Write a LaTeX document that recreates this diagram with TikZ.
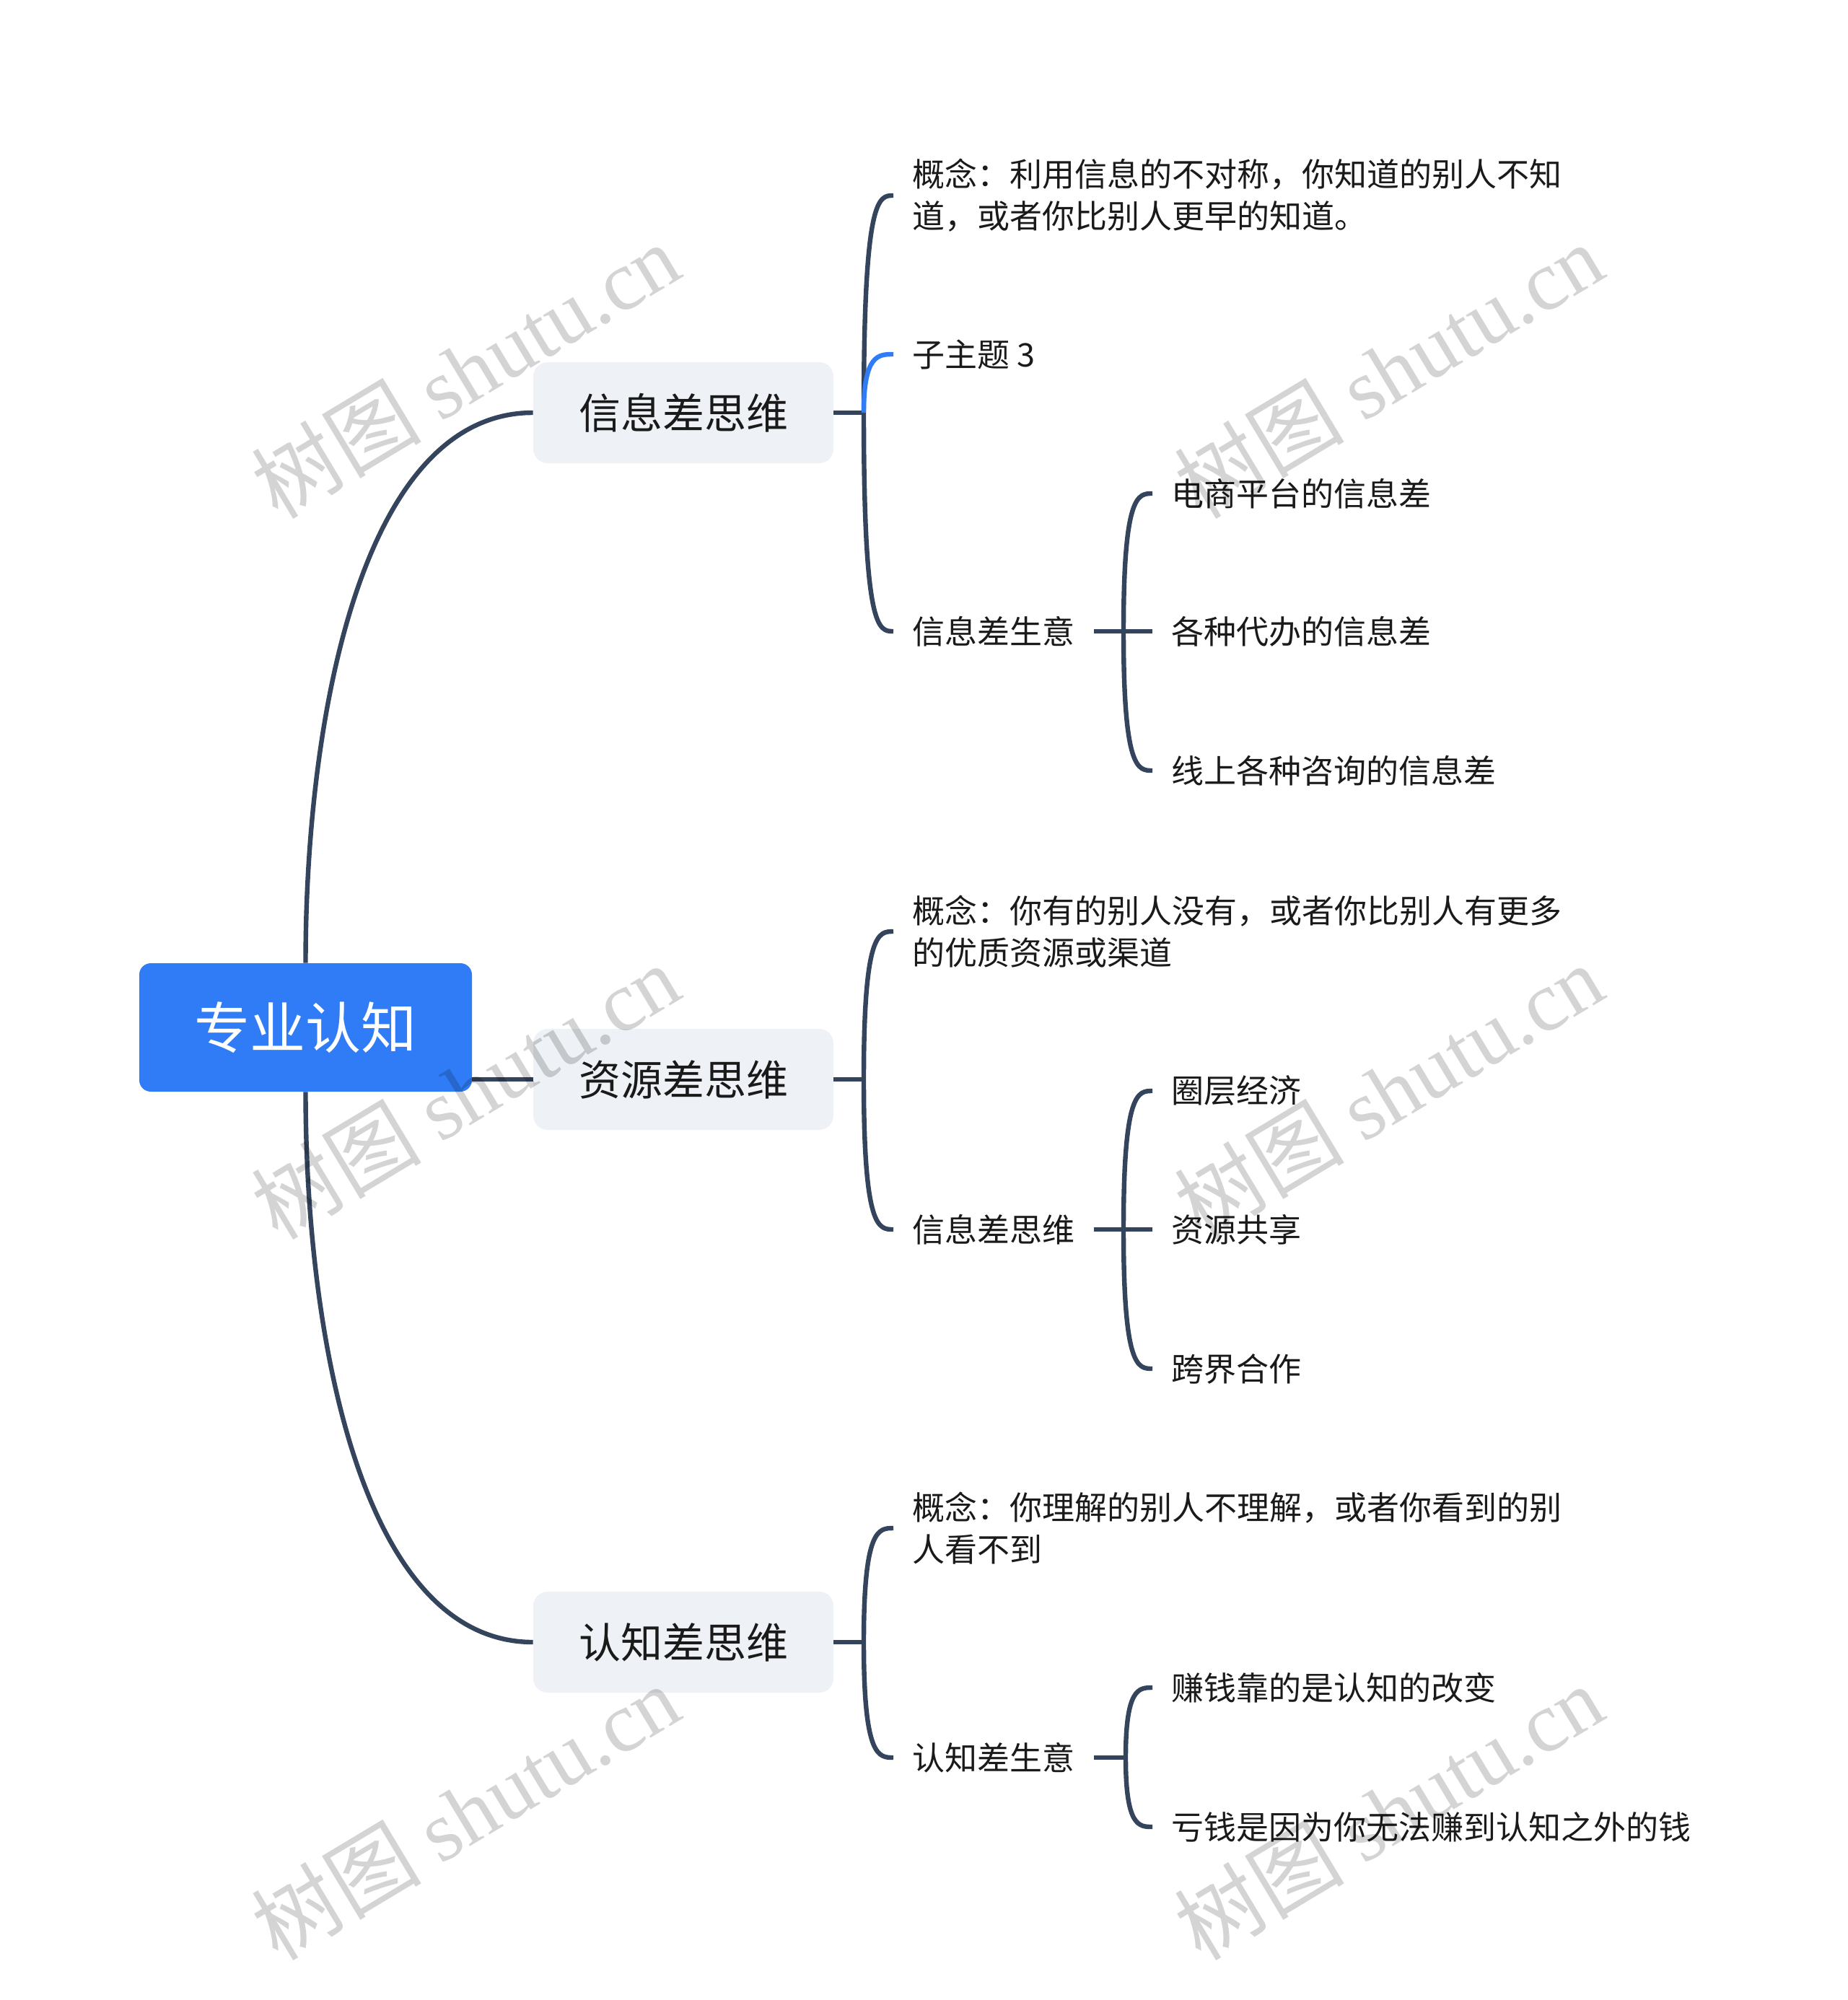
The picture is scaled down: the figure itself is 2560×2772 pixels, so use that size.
\documentclass[tikz,border=0pt]{standalone}
\usepackage{fontspec}
\setmainfont{Noto Sans CJK SC}
\newfontfamily\wmlat{Liberation Serif}
\usetikzlibrary{calc}
\definecolor{rootblue}{HTML}{2F7CF6}
\definecolor{boxgray}{HTML}{EEF1F5}
\definecolor{linecol}{HTML}{34445C}
\definecolor{linkblue}{HTML}{2F7CF6}
\definecolor{wmgray}{HTML}{D4D4D4}
\definecolor{txt}{HTML}{1A1A1A}
\newcommand\mmconn[3][conn]{\draw[#1] (#2) .. controls (#2 |- #3.west) and ($(#2 |- #3.west)!0.5!(#3.west)$) .. (#3.west);}
\begin{document}
\begin{tikzpicture}[x=0.5pt,y=-0.5pt,
  rootnode/.style={rectangle, rounded corners=8pt, fill=rootblue, text=white, minimum width=230.5pt, minimum height=89pt, font=\fontsize{38.5}{46}\selectfont, inner sep=0pt},
  branchnode/.style={rectangle, rounded corners=10pt, fill=boxgray, text=txt, minimum width=208pt, minimum height=70pt, font=\fontsize{29}{35}\selectfont, inner sep=0pt},
  leafnode/.style={anchor=west, inner xsep=13pt, inner ysep=0pt, align=left, text=txt, font=\fontsize{22.5}{29}\selectfont},
  conn/.style={draw=linecol, line width=3.2pt},
  connblue/.style={conn, draw=linkblue},
  wm/.style={text=wmgray, font=\fontsize{59}{65}\selectfont, rotate=31, inner sep=0pt}]
\fill[white] (0,0) rectangle (2560,2772);
\useasboundingbox (0,0) rectangle (2560,2772);

% root and main branches
\node[rootnode] (root) at (423.5,1424) {专业认知};
\node[branchnode] (b1) at (947,572) {信息差思维};
\node[branchnode] (b2) at (947,1496) {资源差思维};
\node[branchnode] (b3) at (947,2276) {认知差思维};

\draw[conn] (root.north) .. controls ($(root.north)+(0,-335)$) and ($(b1.west)+(-239,0)$) .. (b1.west);
\draw[conn] (root.south) .. controls ($(root.south)+(0,335)$) and ($(b3.west)+(-239,0)$) .. (b3.west);
\draw[conn] (root.east |- b2.west) -- (b2.west);

% branch 1
\node[leafnode] (c11) at (1238,271) {概念：利用信息的不对称，你知道的别人不知\\道，或者你比别人更早的知道。};
\node[leafnode] (c12) at (1238,491) {子主题 3};
\node[leafnode] (c13) at (1238,875) {信息差生意};
\node[leafnode] (d11) at (1597,684) {电商平台的信息差};
\node[leafnode] (d12) at (1597,875) {各种代办的信息差};
\node[leafnode] (d13) at (1597,1068) {线上各种咨询的信息差};
\coordinate (j1) at (1197,572);
\coordinate (k1) at (1557,875);
\draw[conn] (b1.east) -- (j1);
\mmconn{j1}{c11}
\mmconn[connblue]{j1}{c12}
\mmconn{j1}{c13}
\draw[conn] (c13.east) -- (k1);
\mmconn{k1}{d11}
\mmconn{k1}{d12}
\mmconn{k1}{d13}

% branch 2
\node[leafnode] (c21) at (1238,1291) {概念：你有的别人没有，或者你比别人有更多\\的优质资源或渠道};
\node[leafnode] (c22) at (1238,1704) {信息差思维};
\node[leafnode] (d21) at (1597,1512) {圈层经济};
\node[leafnode] (d22) at (1597,1704) {资源共享};
\node[leafnode] (d23) at (1597,1897) {跨界合作};
\coordinate (j2) at (1197,1496);
\coordinate (k2) at (1557,1704);
\draw[conn] (b2.east) -- (j2);
\mmconn{j2}{c21}
\mmconn{j2}{c22}
\draw[conn] (c22.east) -- (k2);
\mmconn{k2}{d21}
\mmconn{k2}{d22}
\mmconn{k2}{d23}

% branch 3
\node[leafnode] (c31) at (1238,2118) {概念：你理解的别人不理解，或者你看到的别\\人看不到};
\node[leafnode] (c32) at (1238,2436) {认知差生意};
\node[leafnode] (d31) at (1597,2339) {赚钱靠的是认知的改变};
\node[leafnode] (d32) at (1597,2532) {亏钱是因为你无法赚到认知之外的钱};
\coordinate (j3) at (1197,2276);
\coordinate (k3) at (1560,2436);
\draw[conn] (b3.east) -- (j3);
\mmconn{j3}{c31}
\mmconn{j3}{c32}
\draw[conn] (c32.east) -- (k3);
\mmconn{k3}{d31}
\mmconn{k3}{d32}

% watermarks
\begin{scope}[blend mode=multiply]
\node[wm] (w1) at (645,513) {树图 {\wmlat shutu.cn}};
\node[wm] (w2) at (1924,513) {树图 {\wmlat shutu.cn}};
\node[wm] (w3) at (645,1512) {树图 {\wmlat shutu.cn}};
\node[wm] (w4) at (1924,1512) {树图 {\wmlat shutu.cn}};
\node[wm] (w5) at (645,2511) {树图 {\wmlat shutu.cn}};
\node[wm] (w6) at (1924,2511) {树图 {\wmlat shutu.cn}};
\end{scope}
\end{tikzpicture}
\end{document}
